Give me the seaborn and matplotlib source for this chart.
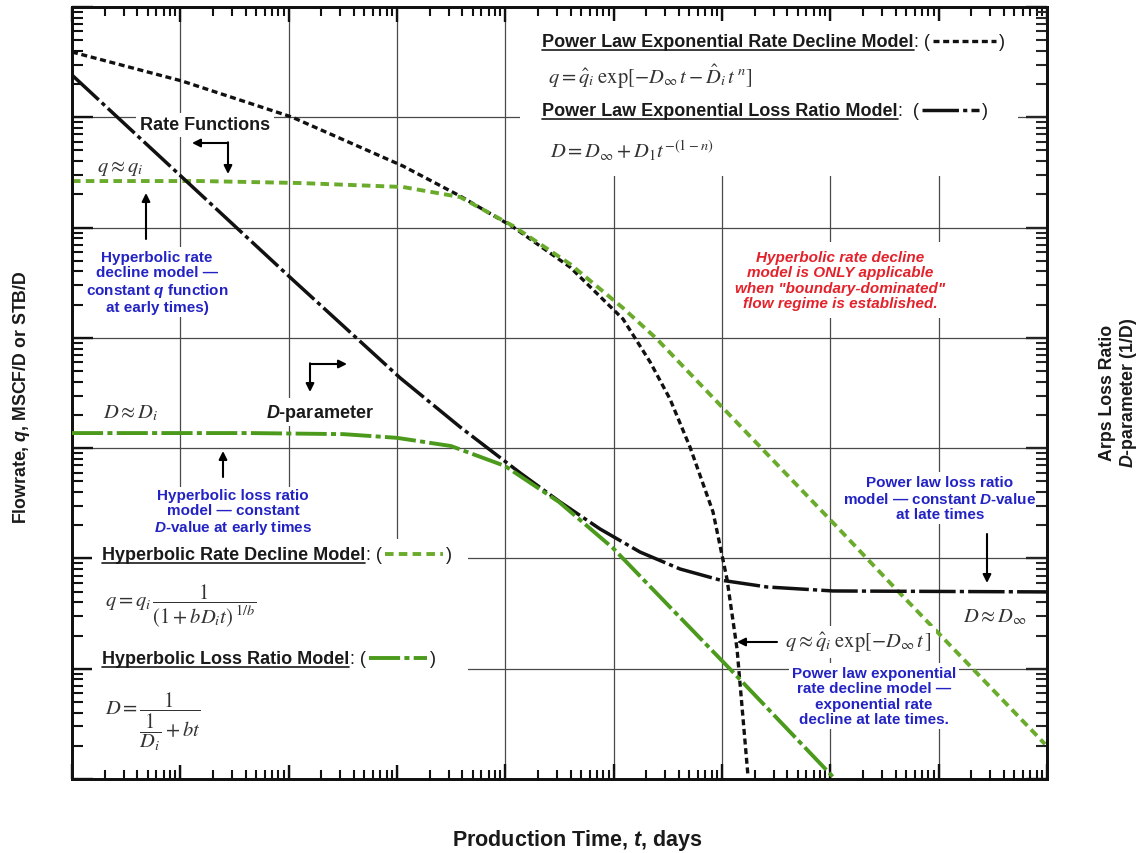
import matplotlib
matplotlib.use("Agg")
import matplotlib.pyplot as plt
import seaborn as sns
import numpy as np
from matplotlib.lines import Line2D
from matplotlib.patches import Rectangle
from matplotlib.ticker import LogLocator, NullFormatter

# ---------------- data ----------------
# Power law exponential rate decline model (rate, left axis)
t_pl_rate = [0.001, 0.01035, 0.107, 1.135, 3.82, 11.8, 39.5, 122, 217, 331, 507, 826, 1112, 1377, 1738]
q_pl_rate = [39080, 21330, 10050, 3614, 1932, 1012, 438.5, 148.2, 60.4, 27.9, 10.2, 2.64, 0.650, 0.151, 0.0106]

# Hyperbolic rate decline model (rate, left axis)
t_hyp_rate = [0.001, 0.0152, 0.127, 1.135, 3.82, 11.8, 39.5, 122, 251, 627, 2606, 11530, 37930, 182800, 959400]
q_hyp_rate = [2642, 2642, 2535, 2333, 1892, 1033, 467.7, 186.5, 97.5, 38.1, 8.85, 1.93, 0.562, 0.113, 0.0207]

# Power law exponential loss ratio model (D, right axis)
t_pl_D = [0.001, 0.01035, 0.107, 1.07, 3.82, 13.7, 32.0, 74.8, 175, 410, 959, 2606, 10590, 1e6]
D_pl = [241.5, 28.7, 3.42, 0.433, 0.1556, 0.0596, 0.0325, 0.0185, 0.01143, 0.00802, 0.00637, 0.00551, 0.00507, 0.00497]

# Hyperbolic loss ratio model (D, right axis)
t_hyp_D = [0.001, 0.044, 0.318, 1.0, 3.15, 9.93, 31.3, 98.6, 310, 1186, 11040]
D_hyp = [0.137, 0.137, 0.134, 0.124, 0.1045, 0.0689, 0.0325, 0.0124, 0.00387, 0.000993, 0.0001]

x_lim = (1e-3, 1e6)
q_lim = (1e-2, 1e5)
D_lim = (1e-4, 1e3)

# ---------------- style ----------------
sns.set_theme(style="white")
plt.rcParams["font.family"] = ["Liberation Sans", "DejaVu Sans"]
plt.rcParams["mathtext.fontset"] = "custom"
plt.rcParams["mathtext.rm"] = "Liberation Sans"
plt.rcParams["mathtext.it"] = "Liberation Sans:italic"
plt.rcParams["mathtext.bf"] = "Liberation Sans:bold"
plt.rcParams["mathtext.bfit"] = "Liberation Sans:italic:bold"

BLACK = "#111111"
GREEN_RATE = "#6aab2c"
GREEN_D = "#4b9a1c"
BLUE = "#2323c4"
RED = "#e3222b"
GRAY = "#333333"

LS_PL_RATE = (0, (1.8, 1.1))
LS_HYP_RATE = (0, (2.2, 1.35))
LS_PL_D = (0, (10.5, 1.2, 1.2, 1.2))
LS_HYP_D = (0, (8.0, 1.1, 1.3, 1.1))

W, H = 1145, 854
fig = plt.figure(figsize=(W / 100, H / 100), dpi=100)
L, R, T, B = 72, 1047, 8, 780
ax = fig.add_axes([L / W, 1 - B / H, (R - L) / W, (B - T) / H])
ax2 = ax.twinx()

ax.set_xscale("log")
ax.set_yscale("log")
ax2.set_yscale("log")
ax.set_xlim(*x_lim)
ax.set_ylim(*q_lim)
ax2.set_ylim(*D_lim)

# ---------------- curves ----------------
sns.lineplot(x=t_pl_rate, y=q_pl_rate, ax=ax, color=BLACK, linewidth=2.4,
             linestyle=LS_PL_RATE, estimator=None, sort=False, zorder=4)
sns.lineplot(x=t_hyp_rate, y=q_hyp_rate, ax=ax, color=GREEN_RATE, linewidth=2.8,
             linestyle=LS_HYP_RATE, estimator=None, sort=False, zorder=4)
sns.lineplot(x=t_pl_D, y=D_pl, ax=ax2, color=BLACK, linewidth=2.5,
             linestyle=LS_PL_D, estimator=None, sort=False, zorder=4)
sns.lineplot(x=t_hyp_D, y=D_hyp, ax=ax2, color=GREEN_D, linewidth=2.8,
             linestyle=LS_HYP_D, estimator=None, sort=False, zorder=4)

ax.set_xlim(*x_lim)
ax.set_ylim(*q_lim)
ax2.set_ylim(*D_lim)

# ---------------- ticks / grid ----------------
for axis in (ax.xaxis, ax.yaxis, ax2.yaxis):
    axis.set_major_locator(LogLocator(base=10, numticks=30))
    axis.set_minor_locator(LogLocator(base=10, subs=np.arange(2, 10), numticks=300))
    axis.set_minor_formatter(NullFormatter())

ax.tick_params(which="both", direction="in", top=True, bottom=True, left=True, right=False,
               labelbottom=False, labelleft=False, labeltop=False, colors=BLACK)
ax.tick_params(axis="x", which="major", length=11, width=1.7)
ax.tick_params(axis="x", which="minor", length=6.5, width=1.5)
ax.tick_params(axis="y", which="major", length=15, width=1.7)
ax.tick_params(axis="y", which="minor", length=8, width=1.5)
ax2.tick_params(which="both", direction="in", right=True, left=False, labelright=False, labelleft=False)
ax2.tick_params(axis="y", which="major", length=15, width=1.7)
ax2.tick_params(axis="y", which="minor", length=8, width=1.5)

ax.grid(True, which="major", axis="both", color="#4a4a4a", linewidth=0.9)
ax2.grid(False)
for a in (ax, ax2):
    for sp in a.spines.values():
        sp.set_linewidth(2.0)
        sp.set_color(BLACK)
ax.set_xlabel("")
ax.set_ylabel("")
ax2.set_ylabel("")


def AX(px, py):
    return ((px - L) / (R - L), (B - py) / (B - T))


# white areas that hide the grid behind the text blocks
for (x0, y0, x1, y1) in [(520, 22, 1018, 177), (92, 540, 468, 766)]:
    ax.add_patch(Rectangle(AX(x0, y1), (x1 - x0) / (R - L), (y1 - y0) / (B - T),
                           transform=ax.transAxes, facecolor="white", edgecolor="none", zorder=2))

WB = dict(boxstyle="square,pad=0.2", facecolor="white", edgecolor="none")


def txt(px, py, s, **kw):
    kw.setdefault("zorder", 3)
    return ax.text(*AX(px, py), s, transform=ax.transAxes, **kw)


renderer = fig.canvas.get_renderer()
inv = ax.transAxes.inverted()
FS_H = 13


def line_disp(x0, x1, yy, **kw):
    p0 = inv.transform((x0, yy))
    p1 = inv.transform((x1, yy))
    ax.add_line(Line2D([p0[0], p1[0]], [p0[1], p1[1]], transform=ax.transAxes,
                       zorder=7, clip_on=False, **kw))


def header(px, py, title, sep, ls, color, lw, Lpx):
    x, y = AX(px, py)
    t = ax.text(x, y, title, transform=ax.transAxes, fontsize=FS_H, fontweight="bold",
                color="#1a1a1a", ha="left", va="baseline", zorder=6)
    bb = t.get_window_extent(renderer)
    base = ax.transAxes.transform((x, y))[1]
    line_disp(bb.x0, bb.x1, base - 4, color="#1a1a1a", lw=1.2)
    t2 = ax.text(inv.transform((bb.x1 + 1, base))[0], y, sep, transform=ax.transAxes,
                 fontsize=FS_H, color="#1a1a1a", ha="left", va="baseline", zorder=6)
    bb2 = t2.get_window_extent(renderer)
    s0 = bb2.x1 + 3
    line_disp(s0, s0 + Lpx, base + 5, color=color, lw=lw, linestyle=ls)
    ax.text(inv.transform((s0 + Lpx + 3, base))[0], y, ")", transform=ax.transAxes,
            fontsize=FS_H, color="#1a1a1a", ha="left", va="baseline", zorder=6)


header(542, 47, "Power Law Exponential Rate Decline Model", ": (", LS_PL_RATE, BLACK, 2.4, 62)
header(542, 116, "Power Law Exponential Loss Ratio Model", ":  (", LS_PL_D, BLACK, 2.5, 56)
header(102, 560, "Hyperbolic Rate Decline Model", ": (", LS_HYP_RATE, GREEN_RATE, 2.8, 58)
header(102, 664, "Hyperbolic Loss Ratio Model", ": (", LS_HYP_D, GREEN_D, 2.8, 58)

MF = dict(math_fontfamily="stix", color=GRAY, zorder=6)
FS_M = 14.8
txt(548, 77, r"$q = \hat{q}_i\;\exp[-D_\infty\, t - \hat{D}_i\, t^{\,n}]$", fontsize=FS_M,
    ha="left", va="center", **MF)
txt(550, 151, r"$D = D_\infty + D_1 t^{-(1-n)}$", fontsize=FS_M, ha="left", va="center", **MF)
txt(105, 606, r"$q = q_i\,\dfrac{1}{(1 + bD_i t)^{\;1/b}}$", fontsize=FS_M, ha="left", va="center", **MF)
txt(105, 722, r"$D = \dfrac{1}{\dfrac{1}{D_i} + bt}$", fontsize=FS_M, ha="left", va="center", **MF)

txt(97, 168, r"$q \approx q_i$", fontsize=FS_M, ha="left", va="center", **MF)
txt(103, 413, r"$D \approx D_i$", fontsize=FS_M, ha="left", va="center", **MF)
txt(963, 617, r"$D \approx D_\infty$", fontsize=FS_M, ha="left", va="center", **MF)
txt(785, 643, r"$q \approx \hat{q}_i\;\exp[-D_\infty\, t\,]$", fontsize=FS_M, ha="left", va="center",
    bbox=WB, **MF)

# bold labels
txt(205, 126, "Rate Functions", fontsize=13, fontweight="bold", color="#1a1a1a",
    ha="center", va="center", bbox=WB)
txt(320, 413, r"$\mathbfit{D}$-parameter", fontsize=13, fontweight="bold", color="#1a1a1a",
    ha="center", va="center", bbox=WB)

# blue notes
BK = dict(fontsize=11, fontweight="bold", color=BLUE, ha="center", va="center",
          multialignment="center", linespacing=1.12, bbox=WB)
txt(157, 283, "Hyperbolic rate\ndecline model \u2014\nconstant $\\mathbfit{q}$ function\nat early times)", **BK)
txt(233, 513, "Hyperbolic loss ratio\nmodel \u2014 constant\n$\\mathbfit{D}$-value at early times", **BK)
txt(940, 499, "Power law loss ratio\nmodel \u2014 constant $\\mathbfit{D}$-value\nat late times", **BK)
txt(874, 697, "Power law exponential\nrate decline model \u2014\nexponential rate\ndecline at late times.", **BK)

# red note
txt(840, 281, "Hyperbolic rate decline\nmodel is ONLY applicable\nwhen \"boundary-dominated\"\nflow regime is established.",
    fontsize=11, fontweight="bold", fontstyle="italic", color=RED, ha="center", va="center",
    multialignment="center", linespacing=1.12,
    bbox=dict(boxstyle="square,pad=0.5", facecolor="white", edgecolor="none"))


# arrows
def arrow(p_from, p_to):
    ax.annotate("", xy=AX(*p_to), xytext=AX(*p_from), xycoords="axes fraction",
                textcoords="axes fraction", zorder=7,
                arrowprops=dict(arrowstyle="-|>", color="black", lw=1.5, mutation_scale=12,
                                shrinkA=0, shrinkB=0))


arrow((228, 144), (192, 144))
arrow((228, 143.3), (228, 175))
arrow((310, 365), (347, 365))
arrow((310, 364.3), (310, 393))
arrow((146, 240), (146, 194))
arrow((223, 478), (223, 452))
arrow((987, 535), (987, 584))
arrow((777, 643), (737, 643))

# axis titles
fig.text(22 / W, 1 - 397 / H, r"Flowrate, $\mathbfit{q}$, MSCF/D or STB/D", rotation=90,
         ha="center", va="center", fontsize=12.8, fontweight="bold", color="#1a1a1a")
fig.text(1119 / W, 1 - 393 / H, "Arps Loss Ratio\n$\\mathbfit{D}$-parameter (1/D)", rotation=90,
         ha="center", va="center", multialignment="center", fontsize=12.8, fontweight="bold",
         color="#1a1a1a", linespacing=1.1)
fig.text(577 / W, 1 - 841 / H, r"Production Time, $\mathbfit{t}$, days", ha="center", va="center",
         fontsize=15.5, fontweight="bold", color="#1a1a1a")

fig.savefig("out.png", dpi=100)
